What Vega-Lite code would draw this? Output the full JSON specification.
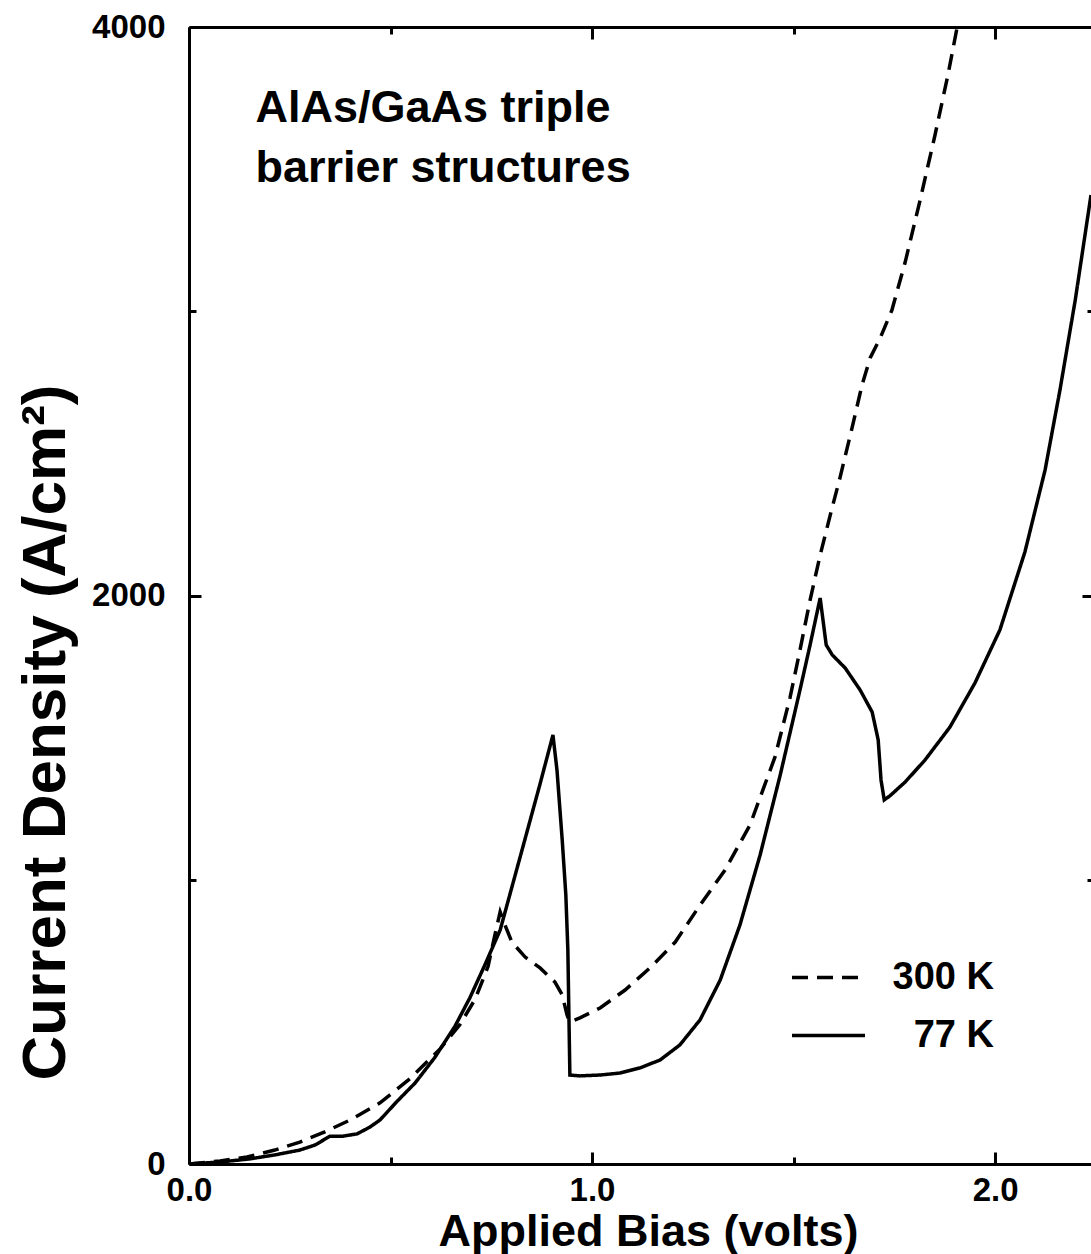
{
  "$schema": "https://vega.github.io/schema/vega-lite/v6.json",
  "width": 902,
  "height": 1137,
  "autosize": {"type": "none"},
  "padding": {"left": 189, "top": 27, "right": 0, "bottom": 90},
  "background": "white",
  "config": {
    "view": {"stroke": null},
    "axis": {
      "grid": false,
      "domainColor": "black",
      "domainWidth": 3,
      "tickColor": "black",
      "tickWidth": 3,
      "labelColor": "black",
      "labelFont": "Liberation Sans",
      "labelFontWeight": "bold",
      "labelFontSize": 33,
      "labelFlush": false,
      "titleFont": "Liberation Sans",
      "titleFontWeight": "bold",
      "titleFontSize": 45,
      "titleColor": "black"
    }
  },
  "datasets": {
    "curves": [
      {"series": "300 K", "bias": 0, "density": 0},
      {"series": "300 K", "bias": 0.077, "density": 11},
      {"series": "300 K", "bias": 0.144, "density": 25},
      {"series": "300 K", "bias": 0.213, "density": 49},
      {"series": "300 K", "bias": 0.275, "density": 77},
      {"series": "300 K", "bias": 0.337, "density": 113},
      {"series": "300 K", "bias": 0.400, "density": 155},
      {"series": "300 K", "bias": 0.474, "density": 215},
      {"series": "300 K", "bias": 0.548, "density": 300},
      {"series": "300 K", "bias": 0.623, "density": 405},
      {"series": "300 K", "bias": 0.672, "density": 490},
      {"series": "300 K", "bias": 0.710, "density": 580},
      {"series": "300 K", "bias": 0.742, "density": 695},
      {"series": "300 K", "bias": 0.759, "density": 806},
      {"series": "300 K", "bias": 0.772, "density": 887},
      {"series": "300 K", "bias": 0.784, "density": 841},
      {"series": "300 K", "bias": 0.801, "density": 781},
      {"series": "300 K", "bias": 0.834, "density": 728},
      {"series": "300 K", "bias": 0.871, "density": 690},
      {"series": "300 K", "bias": 0.908, "density": 640},
      {"series": "300 K", "bias": 0.926, "density": 595},
      {"series": "300 K", "bias": 0.938, "density": 524},
      {"series": "300 K", "bias": 0.945, "density": 500},
      {"series": "300 K", "bias": 0.970, "density": 514},
      {"series": "300 K", "bias": 1.020, "density": 549},
      {"series": "300 K", "bias": 1.082, "density": 612},
      {"series": "300 K", "bias": 1.144, "density": 690},
      {"series": "300 K", "bias": 1.206, "density": 780},
      {"series": "300 K", "bias": 1.268, "density": 911},
      {"series": "300 K", "bias": 1.330, "density": 1034},
      {"series": "300 K", "bias": 1.392, "density": 1193},
      {"series": "300 K", "bias": 1.454, "density": 1432},
      {"series": "300 K", "bias": 1.491, "density": 1639},
      {"series": "300 K", "bias": 1.516, "density": 1808},
      {"series": "300 K", "bias": 1.541, "density": 1984},
      {"series": "300 K", "bias": 1.566, "density": 2142},
      {"series": "300 K", "bias": 1.591, "density": 2283},
      {"series": "300 K", "bias": 1.615, "density": 2413},
      {"series": "300 K", "bias": 1.645, "density": 2589},
      {"series": "300 K", "bias": 1.670, "density": 2741},
      {"series": "300 K", "bias": 1.690, "density": 2836},
      {"series": "300 K", "bias": 1.715, "density": 2906},
      {"series": "300 K", "bias": 1.744, "density": 3004},
      {"series": "300 K", "bias": 1.777, "density": 3173},
      {"series": "300 K", "bias": 1.814, "density": 3391},
      {"series": "300 K", "bias": 1.851, "density": 3620},
      {"series": "300 K", "bias": 1.883, "density": 3831},
      {"series": "300 K", "bias": 1.906, "density": 4000},
      {"series": "77 K", "bias": 0, "density": 0},
      {"series": "77 K", "bias": 0.077, "density": 7},
      {"series": "77 K", "bias": 0.151, "density": 18},
      {"series": "77 K", "bias": 0.213, "density": 32},
      {"series": "77 K", "bias": 0.275, "density": 49},
      {"series": "77 K", "bias": 0.313, "density": 67},
      {"series": "77 K", "bias": 0.350, "density": 98},
      {"series": "77 K", "bias": 0.382, "density": 98},
      {"series": "77 K", "bias": 0.417, "density": 106},
      {"series": "77 K", "bias": 0.449, "density": 130},
      {"series": "77 K", "bias": 0.474, "density": 155},
      {"series": "77 K", "bias": 0.516, "density": 220},
      {"series": "77 K", "bias": 0.561, "density": 285},
      {"series": "77 K", "bias": 0.610, "density": 375},
      {"series": "77 K", "bias": 0.660, "density": 485},
      {"series": "77 K", "bias": 0.697, "density": 585},
      {"series": "77 K", "bias": 0.734, "density": 700},
      {"series": "77 K", "bias": 0.772, "density": 823},
      {"series": "77 K", "bias": 0.821, "density": 1077},
      {"series": "77 K", "bias": 0.871, "density": 1337},
      {"series": "77 K", "bias": 0.903, "density": 1509},
      {"series": "77 K", "bias": 0.913, "density": 1386},
      {"series": "77 K", "bias": 0.926, "density": 1140},
      {"series": "77 K", "bias": 0.935, "density": 946},
      {"series": "77 K", "bias": 0.940, "density": 753},
      {"series": "77 K", "bias": 0.945, "density": 313},
      {"series": "77 K", "bias": 0.970, "density": 310},
      {"series": "77 K", "bias": 1.020, "density": 313},
      {"series": "77 K", "bias": 1.069, "density": 320},
      {"series": "77 K", "bias": 1.119, "density": 338},
      {"series": "77 K", "bias": 1.169, "density": 366},
      {"series": "77 K", "bias": 1.218, "density": 419},
      {"series": "77 K", "bias": 1.268, "density": 507},
      {"series": "77 K", "bias": 1.318, "density": 647},
      {"series": "77 K", "bias": 1.367, "density": 841},
      {"series": "77 K", "bias": 1.417, "density": 1087},
      {"series": "77 K", "bias": 1.467, "density": 1369},
      {"series": "77 K", "bias": 1.516, "density": 1668},
      {"series": "77 K", "bias": 1.541, "density": 1826},
      {"series": "77 K", "bias": 1.566, "density": 1991},
      {"series": "77 K", "bias": 1.573, "density": 1914},
      {"series": "77 K", "bias": 1.581, "density": 1826},
      {"series": "77 K", "bias": 1.596, "density": 1791},
      {"series": "77 K", "bias": 1.628, "density": 1745},
      {"series": "77 K", "bias": 1.665, "density": 1668},
      {"series": "77 K", "bias": 1.695, "density": 1590},
      {"series": "77 K", "bias": 1.710, "density": 1492},
      {"series": "77 K", "bias": 1.717, "density": 1351},
      {"series": "77 K", "bias": 1.725, "density": 1281},
      {"series": "77 K", "bias": 1.739, "density": 1295},
      {"series": "77 K", "bias": 1.777, "density": 1344},
      {"series": "77 K", "bias": 1.826, "density": 1421},
      {"series": "77 K", "bias": 1.888, "density": 1537},
      {"series": "77 K", "bias": 1.950, "density": 1692},
      {"series": "77 K", "bias": 2.012, "density": 1879},
      {"series": "77 K", "bias": 2.074, "density": 2153},
      {"series": "77 K", "bias": 2.124, "density": 2441},
      {"series": "77 K", "bias": 2.161, "density": 2723},
      {"series": "77 K", "bias": 2.199, "density": 3040},
      {"series": "77 K", "bias": 2.238, "density": 3409}
    ]
  },
  "data": {"name": "curves"},
  "resolve": {"axis": {"x": "independent", "y": "independent"}},
  "layer": [
    {
      "mark": {"type": "line", "color": "black", "strokeWidth": 3.5, "clip": true},
      "encoding": {
        "x": {
          "field": "bias", "type": "quantitative",
          "scale": {"domain": [0, 2.238], "nice": false, "zero": false},
          "axis": {
            "orient": "bottom", "values": [0, 1, 2], "format": ".1f",
            "tickSize": -12, "labelPadding": 22, "domain": true,
            "title": "Applied Bias (volts)", "titleX": 459, "titleY": 81,
            "titleBaseline": "alphabetic", "titleAnchor": "middle"
          }
        },
        "y": {
          "field": "density", "type": "quantitative",
          "scale": {"domain": [0, 4000], "nice": false},
          "axis": {
            "orient": "left", "values": [0, 2000, 4000], "format": "d",
            "tickSize": -12, "labelPadding": 36, "domain": true,
            "title": "Current Density (A/cm²)", "titleFontSize": 62,
            "titleX": -125, "titleY": 705,
            "titleBaseline": "alphabetic", "titleAngle": -90, "titleAlign": "center"
          }
        },
        "strokeDash": {
          "field": "series", "type": "nominal",
          "scale": {"domain": ["300 K", "77 K"], "range": [[16, 9], [1, 0]]},
          "legend": {
            "orient": "none", "legendX": 601, "legendY": 912, "title": null,
            "symbolType": "stroke", "symbolSize": 5329, "symbolStrokeWidth": 3.5,
            "symbolStrokeColor": "black", "labelFont": "Liberation Sans",
            "labelFontWeight": "bold", "labelFontSize": 38, "labelColor": "black",
            "labelAlign": "right", "labelOffset": 127, "rowPadding": 0, "padding": 0
          }
        }
      }
    },
    {
      "data": {"values": [{"note": "AlAs/GaAs triple\nbarrier structures"}]},
      "mark": {
        "type": "text", "font": "Liberation Sans", "fontWeight": "bold", "fontSize": 45,
        "align": "left", "baseline": "alphabetic", "lineBreak": "\n", "lineHeight": 60, "color": "black"
      },
      "encoding": {
        "x": {"datum": 0.165, "type": "quantitative", "axis": null},
        "y": {"datum": 3666, "type": "quantitative", "axis": null},
        "text": {"field": "note"}
      }
    },
    {
      "mark": {"type": "point", "opacity": 0},
      "encoding": {
        "x": {"field": "bias", "type": "quantitative",
          "axis": {"orient": "bottom", "values": [0.5, 1.5], "tickSize": -7, "labels": false, "domain": false, "title": null}},
        "y": {"field": "density", "type": "quantitative",
          "axis": {"orient": "left", "values": [1000, 3000], "tickSize": -7, "labels": false, "domain": false, "title": null}}
      }
    },
    {
      "mark": {"type": "point", "opacity": 0},
      "encoding": {
        "x": {"field": "bias", "type": "quantitative",
          "axis": {"orient": "top", "values": [0, 1, 2], "tickSize": -12, "labels": false, "domain": true, "title": null}},
        "y": {"field": "density", "type": "quantitative",
          "axis": {"orient": "right", "values": [0, 2000, 4000], "tickSize": -12, "labels": false, "domain": false, "offset": 3, "title": null}}
      }
    },
    {
      "mark": {"type": "point", "opacity": 0},
      "encoding": {
        "x": {"field": "bias", "type": "quantitative",
          "axis": {"orient": "top", "values": [0.5, 1.5], "tickSize": -7, "labels": false, "domain": false, "title": null}},
        "y": {"field": "density", "type": "quantitative",
          "axis": {"orient": "right", "values": [1000, 3000], "tickSize": -7, "labels": false, "domain": false, "offset": 3, "title": null}}
      }
    }
  ]
}
